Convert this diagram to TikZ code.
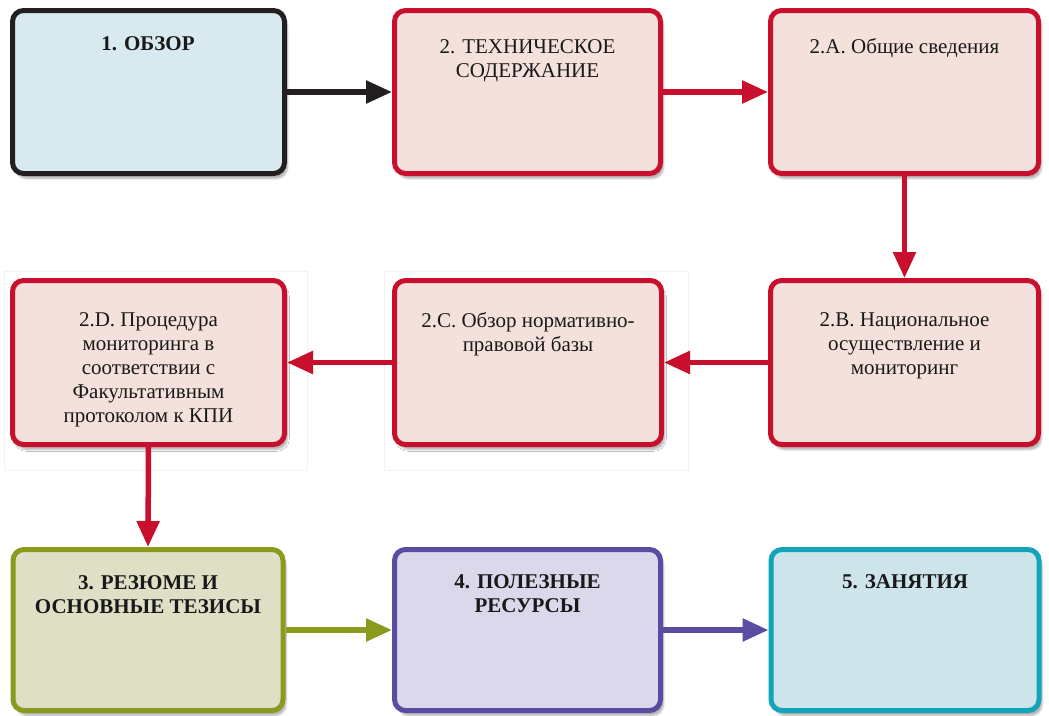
\documentclass[tikz,border=0pt]{standalone}
\usepackage{fontspec}
\setmainfont{Liberation Serif}
\usetikzlibrary{arrows.meta,shadows,shadows.blur}
\definecolor{cblack}{HTML}{231F20}
\definecolor{cblue}{HTML}{D9E9F0}
\definecolor{cred}{HTML}{C8102E}
\definecolor{credf}{HTML}{F5E1DC}
\definecolor{colive}{HTML}{8A9A1D}
\definecolor{colivef}{HTML}{DEDFC5}
\definecolor{cpurp}{HTML}{5B4BA2}
\definecolor{cpurpf}{HTML}{DCD8EB}
\definecolor{cteal}{HTML}{12A5BA}
\definecolor{ctealf}{HTML}{CDE4EA}
\tikzset{
  box/.style={draw, line width=5pt, rounded corners=11pt, minimum width=268pt, minimum height=163pt, inner sep=0pt,
    blur shadow={shadow xshift=3pt, shadow yshift=-5pt, shadow blur steps=6, shadow opacity=30}},
  txt/.style={align=center, font=\fontsize{21}{24}\selectfont, text=black!90},
  btxt/.style={txt, font=\fontsize{21}{24}\selectfont\bfseries},
  arr/.style={line width=5.5pt, -{Triangle[length=26pt,width=22pt]}},
  panel/.style={draw=black!5, line width=0.8pt, fill=white}
}
\begin{document}
\begin{tikzpicture}[x=1pt,y=-1pt]
\useasboundingbox (0,0) rectangle (1049,715);
% faint panels
\path[panel] (4,271) rectangle (307,470);
\path[panel] (384,271) rectangle (688,470);
% boxes
\node[box, draw=cblack, fill=cblue, minimum width=272pt] (b1) at (148.5,92) {};
\node[box, draw=cred, fill=credf, minimum width=266pt] (b2) at (527.5,92) {};
\node[box, draw=cred, fill=credf] (b2a) at (904.5,92) {};
\node[box, draw=cred, fill=credf, minimum height=164pt] (b2b) at (904.5,362.5) {};
\node[box, draw=cred, fill=credf, minimum width=267pt, minimum height=164pt] (b2c) at (528,362.5) {};
\node[box, draw=cred, fill=credf, minimum width=272pt, minimum height=164pt] (b2d) at (148.5,362.5) {};
\node[box, draw=colive, fill=colivef, minimum width=270pt, minimum height=161pt] (b3) at (148,630) {};
\node[box, draw=cpurp, fill=cpurpf, minimum width=266pt, minimum height=161pt] (b4) at (527.5,630) {};
\node[box, draw=cteal, fill=ctealf, minimum width=268pt, minimum height=161pt] (b5) at (905,630) {};
% texts
\node[btxt] (t1) at (148,44) {1. ОБЗОР};
\node[txt] (t2) at (527.5,61) {2. ТЕХНИЧЕСКОЕ\\СОДЕРЖАНИЕ};
\node[txt] (t2a) at (904.5,48) {2.А. Общие сведения};
\node[txt] (t2b) at (904.5,346) {2.В. Национальное\\осуществление и\\мониторинг};
\node[txt] (t2c) at (528,334) {2.С. Обзор нормативно-\\правовой базы};
\node[txt] (t2d) at (148.5,370) {2.D. Процедура\\мониторинга в\\соответствии с\\Факультативным\\протоколом к КПИ};
\node[btxt] (t3) at (148,595) {3. РЕЗЮМЕ И\\ОСНОВНЫЕ ТЕЗИСЫ};
\node[btxt] (t4) at (527.5,594) {4. ПОЛЕЗНЫЕ\\РЕСУРСЫ};
\node[btxt] (t5) at (905,582) {5. ЗАНЯТИЯ};
% arrows
\draw[arr, draw=cblack] (b1.east) -- (b2.west);
\draw[arr, draw=cred] (b2.east) -- (b2a.west);
\draw[arr, draw=cred] (b2a.south) -- (b2b.north);
\draw[arr, draw=cred] (b2b.west) -- (b2c.east);
\draw[arr, draw=cred] (b2c.west) -- (b2d.east);
\draw[arr, draw=cred] (b2d.south) -- (b3.north);
\draw[arr, draw=colive] (b3.east) -- (b4.west);
\draw[arr, draw=cpurp] (b4.east) -- (b5.west);
\end{tikzpicture}
\end{document}
